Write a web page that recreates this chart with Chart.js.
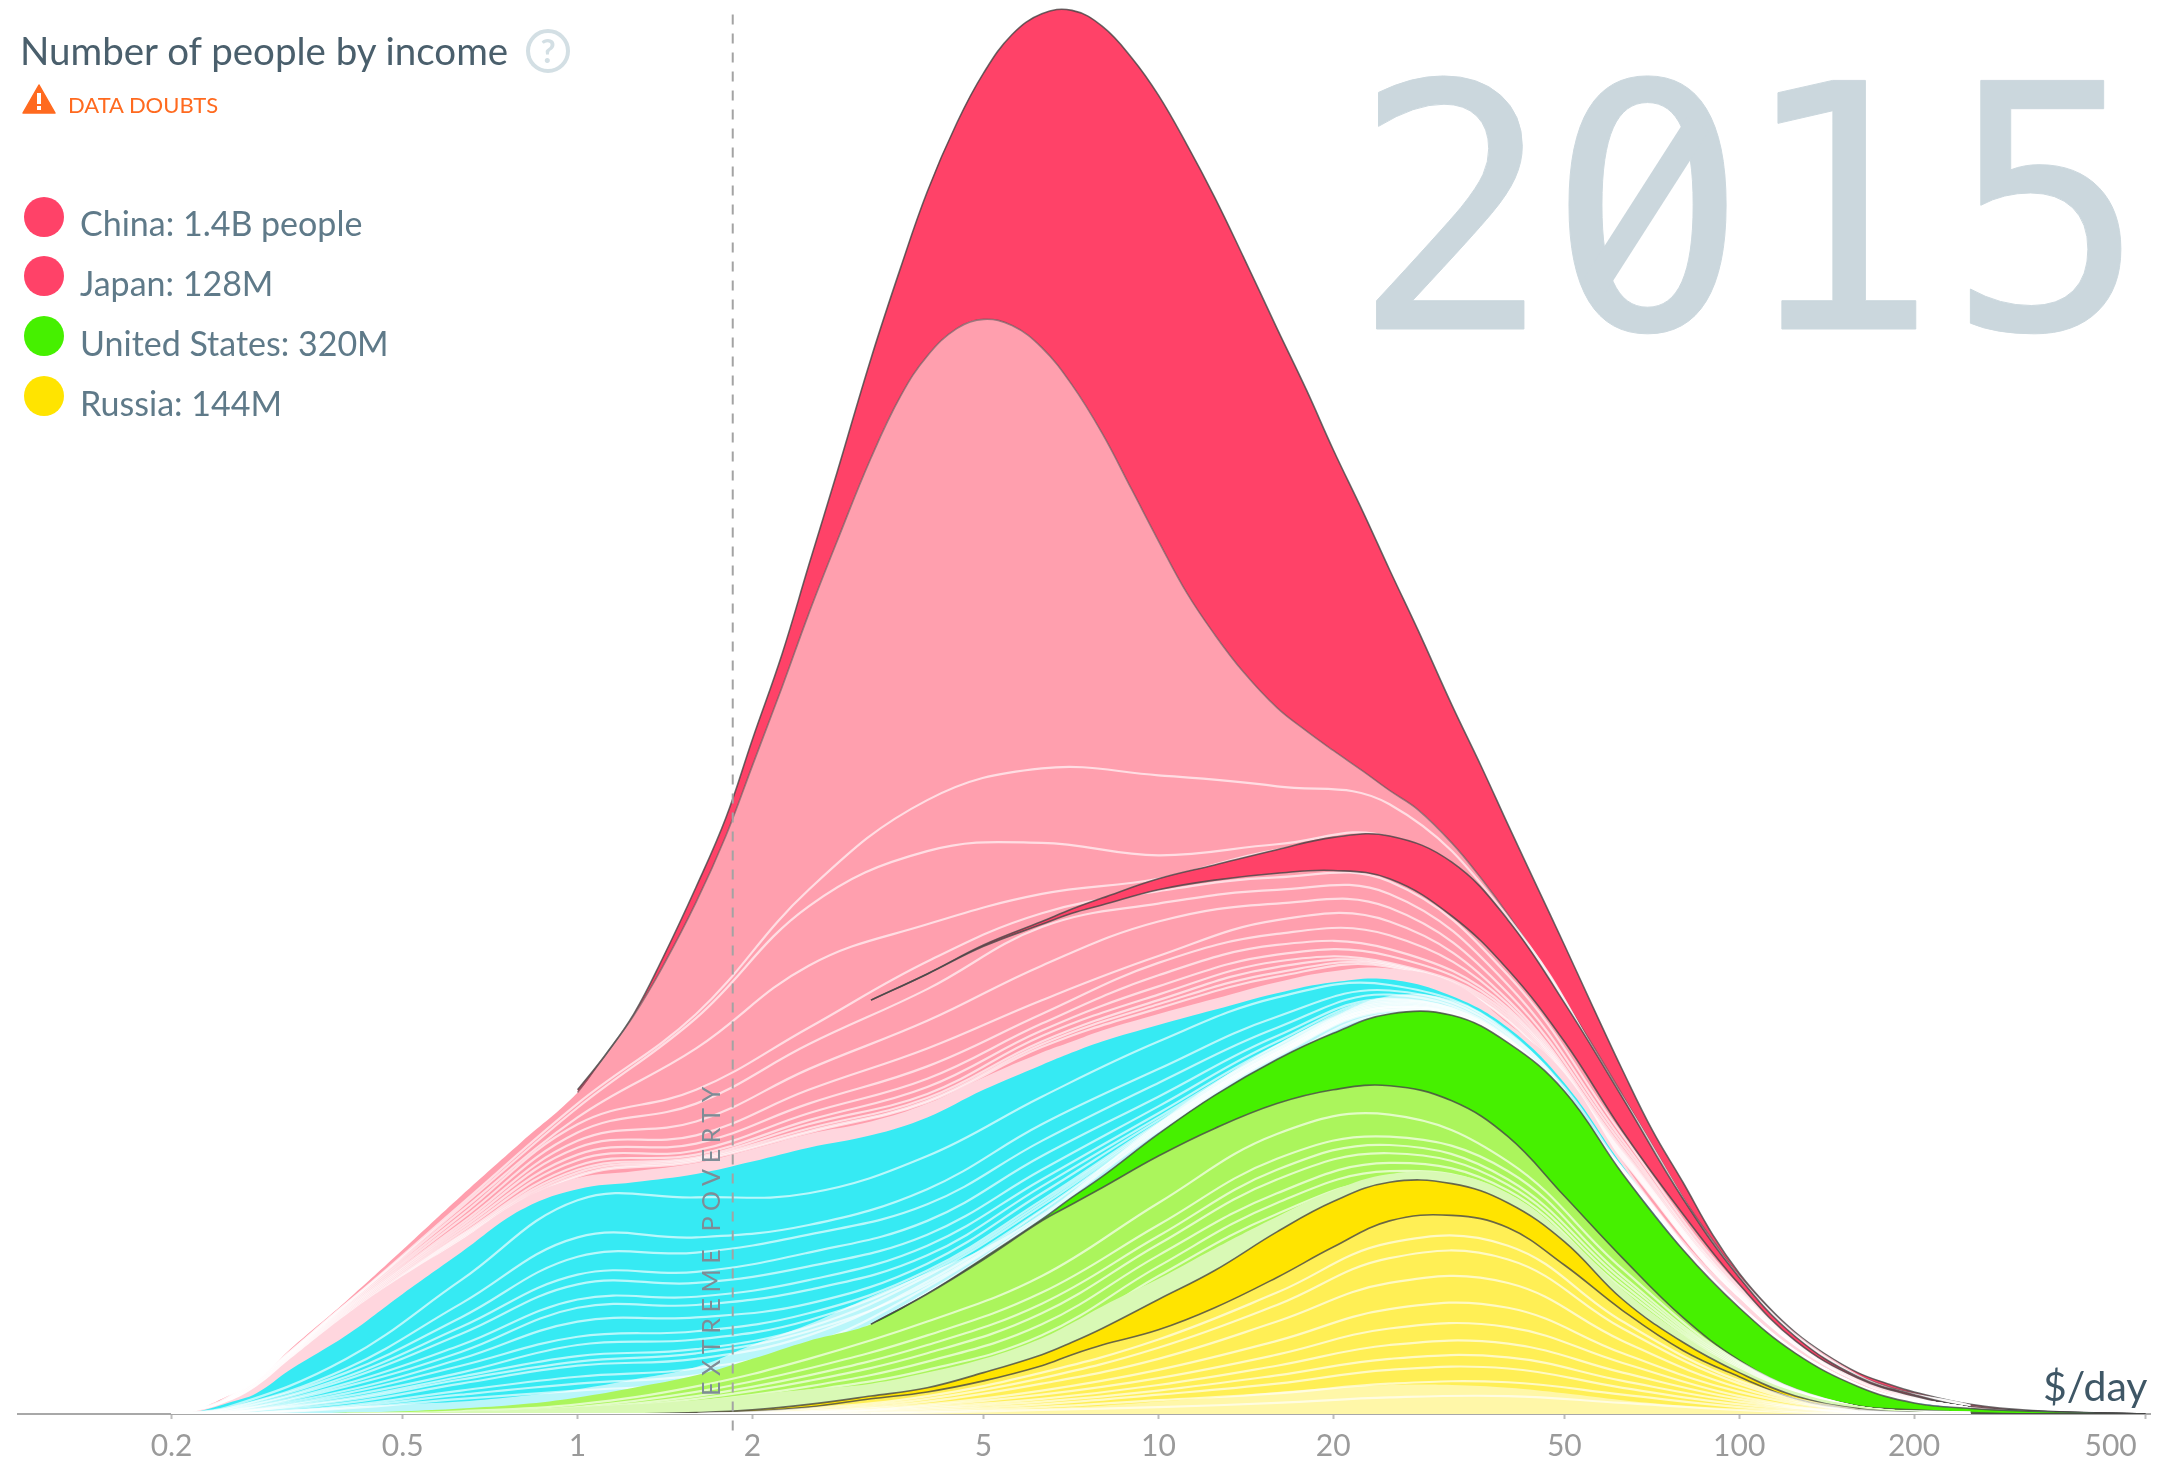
<!DOCTYPE html>
<html><head><meta charset="utf-8">
<script src="https://cdn.jsdelivr.net/npm/chart.js@4"></script>
<style>
html,body{margin:0;padding:0;background:#fff;overflow:hidden}
#wrap{position:relative;width:2163px;height:1461px;font-family:Lato,sans-serif}
canvas{position:absolute;left:0;top:0}
.t{position:absolute;white-space:nowrap;line-height:1}
.dot{position:absolute;width:40px;height:40px;border-radius:50%;left:24px}
.leg{font-size:34px;color:#5f7a89}
#year span{position:relative}
</style></head><body><div id="wrap">
<canvas id="c" width="2163" height="1461"></canvas>
<div class="t" id="year" style="left:1346px;top:12px;font:341px 'DejaVu Sans Mono',monospace;color:#cbd7dd;-webkit-text-stroke:1px #cbd7dd;transform-origin:0 0;transform:scaleX(.976)"><span style="left:6px">2</span><span style="left:1px">0</span><span style="left:-9px">1</span><span>5</span></div>
<svg style="position:absolute;left:1560px;top:100px" width="180" height="200"><circle cx="87" cy="104" r="29" fill="#fff"/><line x1="35" y1="185" x2="138" y2="24" stroke="#cbd7dd" stroke-width="26"/></svg>
<div class="t" style="left:20px;top:31px;font-size:38.5px;color:#4a5f6c">Number of people by income</div>
<svg style="position:absolute;left:525px;top:28px" width="46" height="46"><circle cx="23" cy="23" r="20" fill="none" stroke="#d3dfe4" stroke-width="4"/><text x="23" y="35" text-anchor="middle" font-family="Lato" font-weight="700" font-size="33" fill="#d3dfe4">?</text></svg>
<svg style="position:absolute;left:22px;top:84px" width="34" height="30"><path d="M17 1 L33 29 L1 29 Z" fill="#ff6a1f" stroke="#ff6a1f" stroke-linejoin="round" stroke-width="1.5"/><rect x="15" y="9" width="4" height="11" fill="#fff"/><rect x="15" y="22" width="4" height="4" fill="#fff"/></svg>
<div class="t" style="left:68px;top:94px;font-size:22px;color:#ff6a1f">DATA DOUBTS</div>
<div class="dot" style="top:197px;background:#ff4268"></div><div class="t leg" style="left:80px;top:206px">China: 1.4B people</div>
<div class="dot" style="top:256px;background:#ff4268"></div><div class="t leg" style="left:80px;top:266px">Japan: 128M</div>
<div class="dot" style="top:316px;background:#46f000"></div><div class="t leg" style="left:80px;top:326px">United States: 320M</div>
<div class="dot" style="top:376px;background:#ffe400"></div><div class="t leg" style="left:80px;top:386px">Russia: 144M</div>
<div class="t" style="left:2043px;top:1365px;font-size:41px;color:#3f5766">$/day</div>
<div class="t" id="ep" style="left:698px;top:1396px;font-size:25px;letter-spacing:5.6px;color:#7e8c96;transform-origin:0 0;transform:rotate(-90deg)">EXTREME POVERTY</div>
</div>
<script>
// income grid ($/day)
const incomes=[0.2,0.22,0.25,0.28,0.32,0.4,0.5,0.63,0.8,1,1.25,1.6,2,2.5,3.2,4,5,6.3,7.1,8,10,12.5,16,20,25,32,40,50,63,80,100,125,160,200,250,320,500];
const chinaIncomes=[0.2,0.22,0.25,0.28,0.32,0.4,0.5,0.63,0.8,1,1.12,1.25,1.4,1.6,1.8,2,2.25,2.5,2.8,3.2,3.6,4,4.5,5,5.6,6.3,7.1,8,9,10,11.2,12.5,14,16,18,20,22.5,25,28,32,36,40,45,50,56,63,71,80,90,100,112,125,140,160,180,200,250,320,500];
const tickValues=[0.2,0.5,1,2,5,10,20,50,100,200,500];
const povertyLine=1.85;

// cumulative heights, aligned to the tail of their income grid
const chinaTop=[235,261,290,330,382,432,489,551,615,683,765,831,886,936,972,1000,1015,1017.5,1006,983,956,920,882,839,787,742,699,654,612,568,514,469,427,381,340,295,249,205,168,130,102,78,59,44,30,22,16,7,2.5,0];
const chinaBottom=[0,3,13,24,47,82,119,158,197,233,261,289,324,371,419,470,527,580,633,693,738,767,787,793.5,789,773,746,711,670,633,595,565,538,512,495,481,466,452,438,414,388,362,330,300,267,231,194,157,126,100,77,57,41,28,20,15,6,2,0];
const japanTop=[300,319,340,357,366,374,388,398,409,418,419,400,358,298,229,156,99,56,27,14,5,2,0];
const japanBottom=[300,319,339,355,363,369,380,387,392,394,388,361,322,270,205,145,94,53,26,13,5,2,0];
const palePinkTop=[0,2,9,20,40,72,100,126,155,171,176,182,192,203,212,225,244,262,270,278,290,301,313,321,323,313,283,247,183,126,84,49,23,10,5,2,0];
const asiaBlueTop=[0,1.5,8,15,32,57,87,117,148,163,168,174,183,193,202,215,235,253,262,270,282,293,305,313,315,303,280,240,180,123,80,46,21,9,4,2,0];
const paleBlueTop=[0,0.5,1,1.5,3,5,7,9,13,18,25,34,50,65,85,102,120,145,161,179,211,240,268,288,303,300,277,238,179,123,80,46,21,9,4,2,0];
const usTop=[65,87,113,141,157,172,203,231,257,276,290,289,269,234,174,119,77,44,20,8,4,2,0];
const usBottom=[0,0,0,0,0,1,2,4,7,12,19,28,40,53,65,87,112,140,152,164,187,207,225,235,238,227,201,158,113,70,39,18,6,3,1,0,0];
const paleGreenTop=[1,1,2,3,5,7,10,14,18,22,30,40,55,66,78,98,120,143,162,174,174,160,130,90,57,33,16,6,2,0,0,0];
const russiaTop=[0,1,3,7,13,19,30,43,52,62,83,104,132,154,168,167,153,125,83,52,30,13,4,1,0,0,0];
const russiaBottom=[0,0.5,2,5,11,16,24,35,43,50,61,77,99,121,140,144,135,108,75,46,27,11,3,1,0,0,0];
const paleYellowTop=[1,2,3,4,5,6,9,12,16,19,21,21,19,15,10,6,3,1,0,0,0,0,0];

// white country lines on a coarser income grid
const lineIncomes=[0.2,0.25,0.4,0.63,1,1.6,2.5,4,6.3,10,16,25,40,63,100,160,250];
const pinkLine1=[0,12,80,152,225,290,380,445,468,463,455,442,360,229,99,28,6];
const pinkLine2=[0,12,80,150,222,287,368,408,414,405,413,418,358,227,98,27,6];
const pinkLine3=[0,11,79,147,215,265,325,355,377,388,409,415,356,226,98,27,6];
const pinkLine4=[0,11,78,144,210,235,280,328,363,379,389,386,318,202,92,25,5];
const pinkLine5=[0,11,77,141,204,225,268,308,353,370,380,377,311,198,90,24,5];
const pinkLine6=[0,10,76,138,198,212,250,285,325,357,370,367,305,195,89,23,5];
const pinkLine7=[0,10,75,136,193,202,235,265,300,332,358,357,300,192,88,23,4];
const pinkLine8=[0,10,74,134,188,196,225,252,290,327,348,347,297,190,87,22,4];
const pinkLine9=[0,9,73,132,184,191,218,243,283,318,340,337,294,189,87,22,4];
const pinkLine10=[0,9,72,130,180,188,213,237,278,310,333,332,292,188,86,21,4];
const pinkLine11=[0,9,71,129,177,186,210,232,274,304,328,327,290,187,85,21,3];
const pinkLine12=[0,8,70,128,175,185,207,229,270,300,324,326,288,186,85,21,3];
const pinkLine13=[0,8,69,127,173,184,205,227,268,297,320,325,286,185,84,21,3];
const pinkLine14=[0,8,68,126,172,183,204,226,266,294,317,324,285,184,84,20,3];
const blueLine1=[0,5,40,97,155,157,160,187,230,270,302,311,277,178,79,21,4];
const blueLine2=[0,4,33,80,128,128,137,163,210,250,288,307,275,177,79,21,4];
const blueLine3=[0,4,30,70,114,117,130,152,198,240,280,304,273,176,79,21,4];
const blueLine4=[0,3,27,63,101,103,117,140,187,230,274,301,272,176,78,21,4];
const blueLine5=[0,3,25,58,94,95,107,130,177,223,270,300,272,175,78,21,4];
const blueLine6=[0,2,22,50,83,85,97,122,170,218,267,299,271,175,78,21,4];
const blueLine7=[0,2,20,45,77,79,90,115,165,215,265,298,271,175,78,21,4];
const blueLine8=[0,2,17,40,67,70,80,109,160,213,264,297,270,175,78,21,4];
const blueLine9=[0,1,15,35,56,60,73,104,155,211,263,296,270,175,78,20,4];
const blueLine10=[0,1,11,27,42,47,63,100,151,209,262,295,270,175,78,20,4];
const blueLine11=[0,1,8,22,35,40,57,96,148,208,261,294,270,175,78,20,4];
const blueLine12=[0,0,6,17,27,33,50,92,145,206,260,293,269,175,78,20,4];
const blueLine13=[0,1,13,30,50,54,68,102,153,210,262,295,270,175,78,20,4];
const blueLine14=[0,1,10,25,38,44,60,94,147,207,260,293,269,175,78,20,4];
const blueLine15=[0,0,5,14,22,28,45,88,143,205,259,292,269,175,78,20,4];
const blueLine16=[0,0,4,11,17,23,40,80,130,200,255,290,269,175,78,20,4];
const greenLine1=[0,0,0,2,7,20,40,67,100,153,203,217,183,105,38,5,1];
const greenLine2=[0,0,0,1,5,16,33,57,88,137,185,201,176,100,37,5,1];
const greenLine3=[0,0,0,1,4,13,28,50,80,129,177,195,170,97,36,5,1];
const greenLine4=[0,0,0,1,3,11,24,44,73,123,170,189,166,94,35,5,1];
const greenLine5=[0,0,0,0,3,9,20,38,65,115,160,182,162,91,34,5,0];
const greenLine6=[0,0,0,0,2,8,17,32,57,107,153,176,159,88,33,5,0];
const greenLine7=[0,0,0,0,2,6,14,27,50,100,145,170,156,86,32,5,0];
const yellowLine1=[0,0,0,0,0,0,4,13,30,54,88,124,122,67,24,3,0];
const yellowLine2=[0,0,0,0,0,0,3,11,26,48,79,113,112,62,22,2,0];
const yellowLine3=[0,0,0,0,0,0,2,9,22,40,67,95,95,53,19,2,0];
const yellowLine4=[0,0,0,0,0,0,2,7,17,32,53,76,77,44,16,2,0];
const yellowLine5=[0,0,0,0,0,0,1,6,14,26,43,62,63,37,13,1,0];
const yellowLine6=[0,0,0,0,0,0,1,5,11,21,35,50,51,30,11,1,0];
const yellowLine7=[0,0,0,0,0,0,1,4,9,17,28,40,41,24,9,1,0];
const yellowLine8=[0,0,0,0,0,0,0,3,7,14,22,32,33,19,7,1,0];
const yellowLine9=[0,0,0,0,0,0,0,2,5,10,15,22,23,14,5,0,0];
const yellowLine10=[0,0,0,0,0,0,0,1,3,5,8,12,13,8,3,0,0];

const RED='#ff4268',PINK='#ff9fae',PALEPINK='#ffd6de',BLUE='#36eaf3',PALEBLUE='#b9f6fa',GREEN='#46f000',LGREEN='#abf55c',PGREEN='#d9f9b5',RUS='#ffe400',YEL='#ffef55',PYEL='#fff7a8';
const EDGE='rgba(70,70,70,.8)',SOFTEDGE='rgba(90,90,90,.6)',WHITE='rgba(255,255,255,.65)';

const tail=(xs,ys)=>ys.map((y,i)=>({x:xs[xs.length-ys.length+i],y}));
const ds=[];
function area(label,ys,color,fill,edge,xs){ds.push({label,data:tail(xs||incomes,ys),backgroundColor:color,fill:fill,borderColor:edge?EDGE:'transparent',borderWidth:edge?1.6:0});return ds.length-1;}
function stroke(label,ys,c,xs){ds.push({label,data:tail(xs||incomes,ys),fill:false,borderColor:c||EDGE,borderWidth:1.6});}
function white(label,ys){ds.push({label,data:tail(lineIncomes,ys),fill:false,borderColor:WHITE,borderWidth:2.2});}

const pinkIdx=area('Asia',chinaBottom,PINK,'origin',false,chinaIncomes);
area('China',chinaTop,RED,pinkIdx,true,chinaIncomes);
stroke('China edge',chinaBottom.slice(9),SOFTEDGE,chinaIncomes);
[pinkLine1,pinkLine2,pinkLine3,pinkLine4,pinkLine5,pinkLine6,pinkLine7,pinkLine8,pinkLine9,pinkLine10,pinkLine11,pinkLine12,pinkLine13,pinkLine14].forEach((l,i)=>white('pink '+i,l));
const jb=ds.length;
area('Japan',japanTop,RED,jb+1,true);
area('Japan bottom',japanBottom,'transparent',false,true);
area('Pale pink',palePinkTop,PALEPINK,'origin');
area('Americas',asiaBlueTop,BLUE,'origin');
area('Pale blue',paleBlueTop,PALEBLUE,'origin');
[blueLine1,blueLine2,blueLine3,blueLine4,blueLine5,blueLine6,blueLine7,blueLine8,blueLine9,blueLine10,blueLine11,blueLine12,blueLine13,blueLine14,blueLine15,blueLine16].forEach((l,i)=>white('blue '+i,l));
area('United States',usTop,GREEN,'origin',true);
area('Europe',usBottom,LGREEN,'origin');
stroke('US edge',usBottom.slice(14));
[greenLine1,greenLine2,greenLine3,greenLine4,greenLine5,greenLine6,greenLine7].forEach((l,i)=>white('green '+i,l));
area('Pale green',paleGreenTop,PGREEN,'origin');
area('Russia',russiaTop,RUS,'origin',true);
area('Yellow',russiaBottom,YEL,'origin',true);
area('Pale yellow',paleYellowTop,PYEL,'origin');
[yellowLine1,yellowLine2,yellowLine3,yellowLine4,yellowLine5,yellowLine6,yellowLine7,yellowLine8,yellowLine9,yellowLine10].forEach((l,i)=>white('yellow '+i,l));
ds.push({label:'Extreme poverty',data:[{x:povertyLine,y:-12},{x:povertyLine,y:1018}],fill:false,borderColor:'#a3a3a3',borderWidth:2,borderDash:[10,9],clip:false,tension:0});
ds.forEach((d,i)=>{d.order=-i;d.pointRadius=0;d.pointHoverRadius=0;if(d.tension===undefined)d.tension=0.4;});

new Chart(document.getElementById('c'),{type:'line',data:{datasets:ds},options:{
 responsive:false,animation:false,events:[],
 layout:{padding:{left:18,right:13,top:0,bottom:0}},
 plugins:{legend:{display:false},tooltip:{enabled:false}},
 scales:{
  y:{display:false,min:0,max:1025},
  x:{type:'logarithmic',position:'bottom',min:0.1088,max:509.6,
     afterBuildTicks:s=>{s.ticks=tickValues.map(v=>({value:v}));},
     afterFit:s=>{s.height=47;s.paddingLeft=0;s.paddingRight=0;},
     border:{display:true,color:'#a8a8a8',width:2},
     grid:{drawOnChartArea:false,drawTicks:true,tickLength:5,tickColor:'#bdbdbd',tickWidth:2},
     ticks:{autoSkip:false,maxRotation:0,minRotation:0,padding:9,color:'#9a9a9a',font:{family:'Lato',size:30},callback:v=>v===500?'500         ':String(v)}
  }
 }
}});
</script></body></html>
